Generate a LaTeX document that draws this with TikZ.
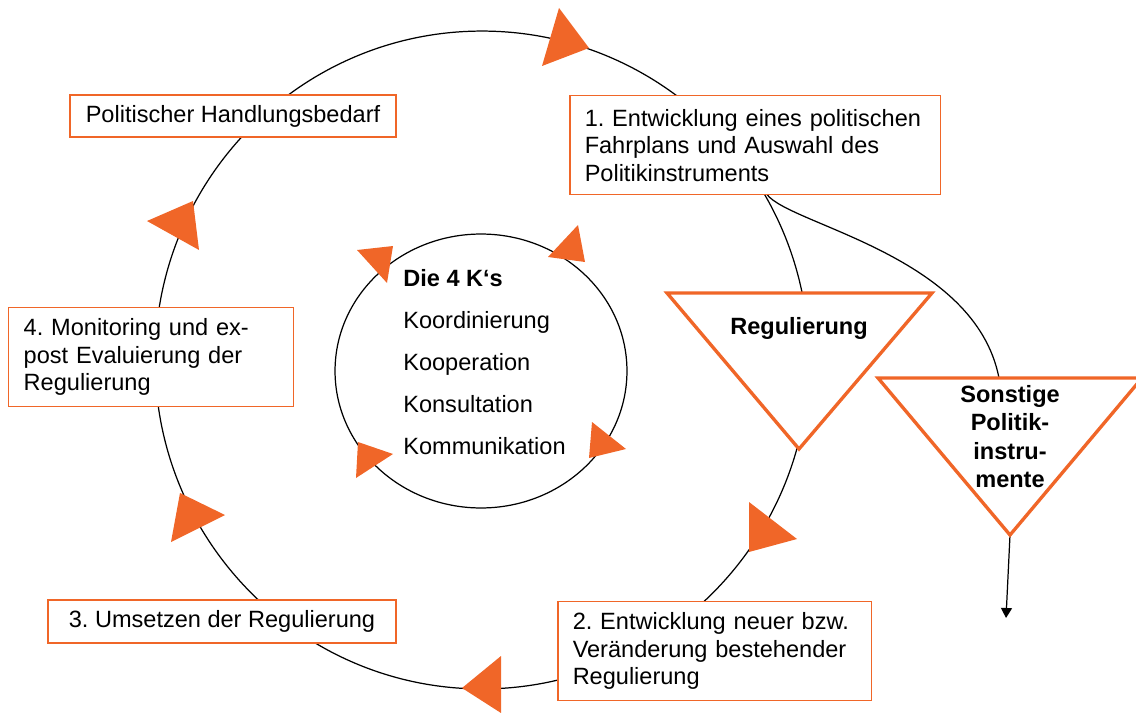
\documentclass[tikz,border=0pt]{standalone}
\usepackage{fontspec}
\setmainfont{Liberation Sans}
\usetikzlibrary{arrows.meta}
\definecolor{orng}{RGB}{240,102,40}
\frenchspacing
\begin{document}
\begin{tikzpicture}[x=0.02cm,y=-0.02cm,
  every node/.style={font=\fontsize{13.4}{15.6}\selectfont},
  stagebox/.style={draw=orng, line width=0.85pt, fill=white, inner ysep=0pt},
  multibox/.style={stagebox, anchor=north west, minimum height=1.98cm, align=left, inner xsep=0.3cm},
  flowtip/.style={fill=orng, draw=none},
  cycleline/.style={line width=0.7pt},
  instr/.style={draw=orng, line width=1.9pt, fill=white, line join=miter},
  instrtext/.style={font=\bfseries\fontsize{13.4}{16.2}\selectfont, align=center, inner sep=0pt}
]
\useasboundingbox (0,0) rectangle (1136,713);

% big cycle and inner cycle
\draw[cycleline] (482,360) ellipse [x radius=6.54cm, y radius=6.58cm];
\draw[cycleline] (481,371) ellipse [x radius=2.92cm, y radius=2.74cm];

% connector to other instruments
\coordinate (b1foot) at (767,194.5);
\coordinate (sN) at (999,378);
\draw[cycleline] (b1foot) .. controls (790,225) and (975,255) .. (sN);
\coordinate (sC) at (1010,535);
\coordinate (sEnd) at (1006,618);
\draw[cycleline, -{Triangle[length=0.2cm,width=0.22cm]}] (sC) -- (sEnd);

% orange flow arrowheads on the big cycle
\fill[flowtip] (559,8) -- (589,48) -- (542,66) -- cycle;
\fill[flowtip] (147,221) -- (193,201) -- (199,250) -- cycle;
\fill[flowtip] (180,493) -- (225,515) -- (171,542) -- cycle;
\fill[flowtip] (462,688) -- (501,656) -- (501,713) -- cycle;
\fill[flowtip] (749,502) -- (797,539) -- (749,552) -- cycle;
% on the inner cycle
\fill[flowtip] (357,250) -- (393,246) -- (387,283) -- cycle;
\fill[flowtip] (578,225) -- (585,262) -- (548,257) -- cycle;
\fill[flowtip] (592,422) -- (626,449) -- (589,458) -- cycle;
\fill[flowtip] (358,442) -- (393,454) -- (356,478) -- cycle;

% stage boxes
\node[stagebox, minimum width=6.52cm, minimum height=0.84cm] (need) at (233,116) {Politischer Handlungsbedarf};
\node[multibox, text width=6.82cm] (s1) at (569,95) {1. Entwicklung eines politischen\\Fahrplans und Auswahl des\\Politikinstruments};
\node[multibox, text width=5.68cm] (s2) at (557,601) {2. Entwicklung neuer bzw.\\Ver\"anderung bestehender\\Regulierung};
\node[stagebox, minimum width=6.96cm, minimum height=0.86cm] (s3) at (222,621.5) {3. Umsetzen der Regulierung};
\node[multibox, text width=5.1cm] (s4) at (8,307) {4. Monitoring und ex-\\post Evaluierung der\\Regulierung};

% inner text
\node[anchor=west, align=left, inner sep=0pt, font=\fontsize{13.4}{23.8}\selectfont] (kk) at (403,362)
  {\textbf{Die 4 K‘s}\\Koordinierung\\Kooperation\\Konsultation\\Kommunikation};

% instrument triangles
\coordinate (rA) at (667,293);
\coordinate (rB) at (932,293);
\coordinate (rC) at (799,449);
\draw[instr] (rA) -- (rB) -- (rC) -- cycle;
\node[instrtext] (reg) at (799,328) {Regulierung};

\coordinate (oA) at (878,378);
\coordinate (oB) at (1142,378);
\coordinate (oC) at (1010,535);
\draw[instr] (oA) -- (oB) -- (oC) -- cycle;
\node[instrtext] (other) at (1010,436.5) {Sonstige\\Politik-\\instru-\\mente};
\end{tikzpicture}
\end{document}
